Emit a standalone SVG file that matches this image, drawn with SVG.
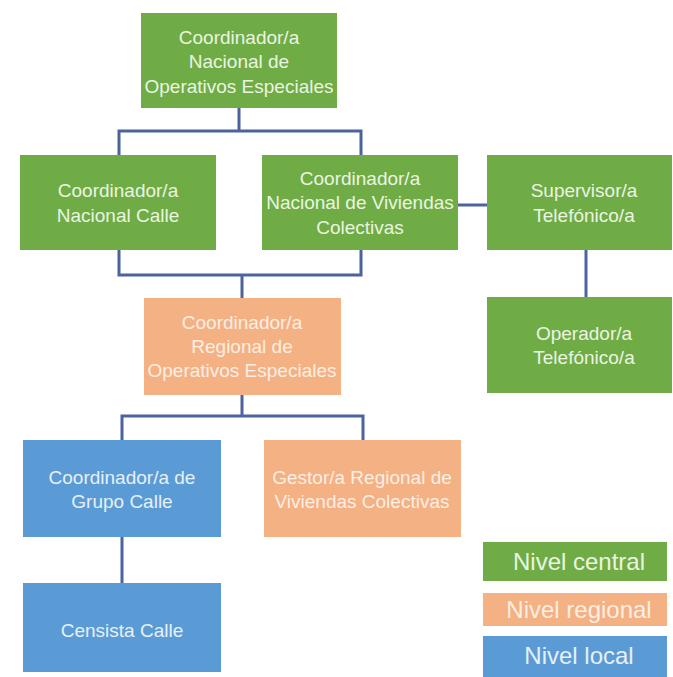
<svg xmlns="http://www.w3.org/2000/svg" width="673" height="677" viewBox="0 0 673 677">
<style>
.g{fill:#6fac46}
.o{fill:#f4b183}
.b{fill:#5b9bd5}
text{font-family:"Liberation Sans",Arial,sans-serif;font-size:19px;text-anchor:middle}
.tg{fill:#eaf5e0}
.to{fill:#fdeee3}
.tb{fill:#e6f0fa}
.lg{font-size:24px}
.c{stroke:#4d63a0;stroke-width:3;fill:none}
</style>
<rect width="673" height="677" fill="#ffffff"/>
<g id="connectors">
<path class="c" d="M239 108V131M119 155V131H361V155"/>
<path class="c" d="M119 250V275H361V250M242 275V298"/>
<path class="c" d="M458 205H487"/>
<path class="c" d="M586 250V297"/>
<path class="c" d="M242 395V416M122 440V416H363V440"/>
<path class="c" d="M122 537V583"/>
</g>
<g id="n-top"><rect class="g" x="141" y="13" width="196" height="95"/>
<text class="tg" x="239" y="44">Coordinador/a</text><text class="tg" x="239" y="68">Nacional de</text><text class="tg" x="239" y="93">Operativos Especiales</text></g>
<g id="n-calle"><rect class="g" x="20" y="155" width="196" height="95"/>
<text class="tg" x="118" y="197">Coordinador/a</text><text class="tg" x="118" y="222">Nacional Calle</text></g>
<g id="n-viviendas"><rect class="g" x="262" y="155" width="196" height="95"/>
<text class="tg" x="360" y="185">Coordinador/a</text><text class="tg" x="360" y="209">Nacional de Viviendas</text><text class="tg" x="360" y="234">Colectivas</text></g>
<g id="n-supervisor"><rect class="g" x="487" y="155" width="185" height="95"/>
<text class="tg" x="584" y="197">Supervisor/a</text><text class="tg" x="584" y="222">Telefónico/a</text></g>
<g id="n-regional"><rect class="o" x="144" y="298" width="197" height="97"/>
<text class="to" x="242" y="329">Coordinador/a</text><text class="to" x="242" y="353">Regional de</text><text class="to" x="242" y="377">Operativos Especiales</text></g>
<g id="n-operador"><rect class="g" x="487" y="297" width="185" height="96"/>
<text class="tg" x="584" y="340">Operador/a</text><text class="tg" x="584" y="364">Telefónico/a</text></g>
<g id="n-grupo"><rect class="b" x="23" y="440" width="198" height="97"/>
<text class="tb" x="122" y="484">Coordinador/a de</text><text class="tb" x="122" y="508">Grupo Calle</text></g>
<g id="n-gestor"><rect class="o" x="264" y="440" width="197" height="97"/>
<text class="to" x="362" y="484">Gestor/a Regional de</text><text class="to" x="362" y="508">Viviendas Colectivas</text></g>
<g id="n-censista"><rect class="b" x="23" y="583" width="198" height="89"/>
<text class="tb" x="122" y="637">Censista Calle</text></g>
<g id="legend">
<rect class="g" x="483" y="542" width="184" height="39"/><text class="tg lg" x="579" y="570">Nivel central</text>
<rect class="o" x="483" y="593" width="184" height="33"/><text class="to lg" x="579" y="618">Nivel regional</text>
<rect class="b" x="483" y="636" width="184" height="41"/><text class="tb lg" x="579" y="664">Nivel local</text>
</g>
</svg>
